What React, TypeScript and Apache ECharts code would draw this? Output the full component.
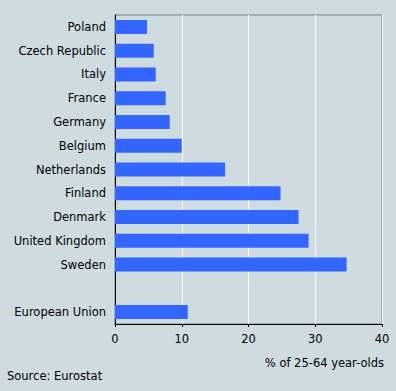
import React, { useEffect, useRef } from "react";
import * as echarts from "echarts";

const categories = [
  "Poland",
  "Czech Republic",
  "Italy",
  "France",
  "Germany",
  "Belgium",
  "Netherlands",
  "Finland",
  "Denmark",
  "United Kingdom",
  "Sweden",
  "",
  "European Union",
];
const values: (number | null)[] = [4.8, 5.8, 6.1, 7.6, 8.2, 10.0, 16.5, 24.8, 27.5, 29.0, 34.7, null, 10.9];
const xTicks = { min: 0, max: 40, interval: 10 };
const unitLabel = "% of 25-64 year-olds";
const sourceLabel = "Source: Eurostat";

const FONT = "DejaVu Sans";
const FS = 11.5;

export default function App() {
  const ref = useRef<HTMLDivElement>(null);
  useEffect(() => {
    document.body.style.margin = "0";
    const chart = echarts.init(ref.current!, null, { renderer: "svg" });
    chart.setOption({
      animation: false,
      backgroundColor: "#CEDCE2",
      grid: {
        left: 115,
        right: 14,
        top: 15,
        bottom: 67,
        show: true,
        borderColor: "#808080",
        borderWidth: 1,
        backgroundColor: "transparent",
      },
      xAxis: {
        type: "value",
        min: xTicks.min,
        max: xTicks.max,
        interval: xTicks.interval,
        axisLine: { show: true, lineStyle: { color: "#000", width: 1 } },
        axisTick: { show: true, length: 3, lineStyle: { color: "#000" } },
        axisLabel: { color: "#000", fontFamily: FONT, fontSize: FS, margin: 9 },
        splitLine: { show: true, lineStyle: { color: "#ffffff", width: 1 } },
      },
      yAxis: {
        type: "category",
        data: categories,
        inverse: true,
        axisLine: { show: true, lineStyle: { color: "#000", width: 1 } },
        axisTick: { show: false },
        axisLabel: { color: "#000", fontFamily: FONT, fontSize: FS, margin: 9 },
        splitLine: { show: false },
      },
      series: [
        {
          type: "bar",
          data: values,
          barWidth: 14,
          itemStyle: { color: "#3366FF" },
        },
      ],
      graphic: [
        {
          type: "text",
          right: 12,
          top: 357,
          style: { text: unitLabel, fill: "#000", font: `${FS}px "${FONT}"` },
        },
        {
          type: "text",
          left: 7,
          top: 370,
          style: { text: sourceLabel, fill: "#000", font: `${FS}px "${FONT}"` },
        },
      ],
    });
    return () => chart.dispose();
  }, []);
  return <div ref={ref} style={{ width: 396, height: 391 }} />;
}
